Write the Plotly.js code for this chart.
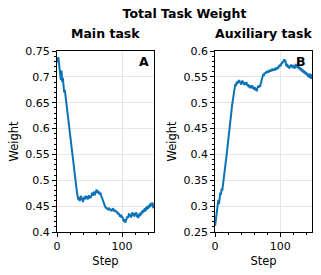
<!DOCTYPE html>
<html><head><meta charset="utf-8">
<script src="https://cdn.plot.ly/plotly-3.0.1.min.js"></script>
<style>html,body{margin:0;padding:0;background:#fff}#c{width:321px;height:275px}</style>
</head><body><div id="c"></div>
<script>
var mainWeight = [
0.736,0.728,0.738,0.722,0.715,0.705,0.694,0.712,0.690,0.698,0.684,
0.670,0.675,0.664,0.660,0.648,0.636,0.622,0.608,0.598,0.585,
0.574,0.560,0.552,0.540,0.528,0.518,0.506,0.496,0.490,0.484,
0.474,0.466,0.462,0.468,0.460,0.464,0.470,0.462,0.466,0.458,
0.465,0.468,0.463,0.470,0.466,0.469,0.463,0.467,0.471,0.465,
0.468,0.466,0.472,0.476,0.470,0.474,0.478,0.471,0.475,0.479,
0.482,0.476,0.480,0.474,0.478,0.472,0.476,0.470,0.467,0.462,
0.458,0.455,0.452,0.449,0.446,0.448,0.444,0.446,0.442,0.447,
0.443,0.445,0.440,0.444,0.441,0.446,0.442,0.440,0.443,0.439,
0.441,0.437,0.439,0.434,0.436,0.432,0.430,0.434,0.428,0.431,
0.426,0.424,0.420,0.425,0.418,0.422,0.426,0.430,0.427,0.433,
0.436,0.430,0.434,0.428,0.435,0.438,0.432,0.436,0.430,0.437,
0.434,0.438,0.429,0.433,0.427,0.432,0.436,0.431,0.438,0.434,
0.441,0.437,0.443,0.439,0.446,0.440,0.448,0.443,0.450,0.445,
0.452,0.447,0.455,0.449,0.456,0.451,0.457,0.446,0.452
];
var auxWeight = [
0.262,0.272,0.280,0.292,0.300,0.312,0.304,0.318,0.326,0.322,
0.334,0.330,0.340,0.346,0.352,0.366,0.378,0.390,0.402,0.414,
0.428,0.440,0.446,0.458,0.470,0.482,0.494,0.504,0.516,0.522,
0.530,0.536,0.532,0.540,0.536,0.542,0.538,0.544,0.538,0.541,
0.535,0.539,0.543,0.537,0.540,0.534,0.538,0.535,0.540,0.536,
0.532,0.536,0.530,0.534,0.528,0.532,0.529,0.534,0.527,0.531,
0.525,0.530,0.524,0.528,0.522,0.528,0.532,0.529,0.534,0.531,
0.536,0.540,0.546,0.550,0.555,0.552,0.558,0.556,0.560,0.557,
0.561,0.558,0.562,0.559,0.564,0.560,0.563,0.561,0.566,0.562,
0.565,0.562,0.567,0.563,0.568,0.564,0.569,0.566,0.572,0.569,
0.574,0.571,0.577,0.575,0.580,0.578,0.584,0.579,0.583,0.574,
0.570,0.575,0.568,0.572,0.566,0.571,0.568,0.574,0.569,0.573,
0.567,0.572,0.566,0.570,0.575,0.568,0.573,0.567,0.571,0.565,
0.569,0.563,0.567,0.561,0.565,0.559,0.563,0.557,0.561,0.555,
0.559,0.553,0.557,0.550,0.554,0.548,0.556,0.551,0.546,0.555
];
var steps = mainWeight.map(function(_, i){ return i; });
var stepsAux = auxWeight.map(function(_, i){ return i; });
var panelTitles = ['Main task', 'Auxiliary task'];
var panelLabels = ['A', 'B'];

var lineColor = '#0b72b6';
var font = 'DejaVu Sans, sans-serif';

function xax(domain, anchor){
  return {domain: domain, anchor: anchor, range: [0, 149], dtick: 100, tick0: 0,
    ticks: 'outside', ticklen: 4, tickwidth: 1, tickcolor: '#000',
    showline: true, linecolor: '#000', linewidth: 1, mirror: true,
    showgrid: true, gridcolor: '#e6e6e6', gridwidth: 1, zeroline: false,
    minor: {dtick: 20, ticklen: 2, tickcolor: '#000', ticks: 'outside', showgrid: false},
    tickfont: {family: font, size: 11, color: '#000'},
    title: {text: 'Step', font: {family: font, size: 11.5, color: '#000'}, standoff: 4}};
}
function yax(range, anchor){
  return {domain: [0, 1], anchor: anchor, range: range, dtick: 0.05, tick0: 0,
    ticks: 'outside', ticklen: 4, tickwidth: 1, tickcolor: '#000',
    showline: true, linecolor: '#000', linewidth: 1, mirror: true,
    showgrid: true, gridcolor: '#e6e6e6', gridwidth: 1, zeroline: false,
    minor: {dtick: 0.01, ticklen: 2, tickcolor: '#000', ticks: 'outside', showgrid: false},
    tickfont: {family: font, size: 11, color: '#000'},
    title: {text: 'Weight', font: {family: font, size: 11.5, color: '#000'}, standoff: 4}};
}

var data = [
  {x: steps, y: mainWeight, type: 'scatter', mode: 'lines', xaxis: 'x', yaxis: 'y',
   line: {color: lineColor, width: 2}, hoverinfo: 'skip'},
  {x: stepsAux, y: auxWeight, type: 'scatter', mode: 'lines', xaxis: 'x2', yaxis: 'y2',
   line: {color: lineColor, width: 2}, hoverinfo: 'skip'}
];

var layout = {
  width: 321, height: 275,
  margin: {l: 57, r: 9, t: 51, b: 43},
  paper_bgcolor: '#fff', plot_bgcolor: '#fff',
  showlegend: false,
  font: {family: font, color: '#000'},
  title: {text: '<b>Total Task Weight</b>', x: 0.5, xref: 'paper', xanchor: 'center',
          y: 1 - 14/275, yref: 'container', yanchor: 'middle',
          font: {family: font, size: 12.5, color: '#000'}},
  xaxis: xax([0, 0.38], 'y'),
  yaxis: yax([0.4, 0.75], 'x'),
  xaxis2: xax([0.62, 1], 'y2'),
  yaxis2: yax([0.25, 0.6], 'x2'),
  annotations: [
    {text: '<b>' + panelTitles[0] + '</b>', xref: 'x domain', yref: 'paper', x: 0.5, y: 1, yshift: 18,
     xanchor: 'center', yanchor: 'middle', showarrow: false, font: {family: font, size: 12.5, color: '#000'}},
    {text: '<b>' + panelTitles[1] + '</b>', xref: 'x2 domain', yref: 'paper', x: 0.5, y: 1, yshift: 18,
     xanchor: 'center', yanchor: 'middle', showarrow: false, font: {family: font, size: 12.5, color: '#000'}},
    {text: '<b>' + panelLabels[0] + '</b>', xref: 'x domain', yref: 'y domain', x: 0.9, y: 0.94,
     xanchor: 'center', yanchor: 'middle', showarrow: false, font: {family: font, size: 12.5, color: '#000'}},
    {text: '<b>' + panelLabels[1] + '</b>', xref: 'x2 domain', yref: 'y2 domain', x: 0.89, y: 0.94,
     xanchor: 'center', yanchor: 'middle', showarrow: false, font: {family: font, size: 12.5, color: '#000'}}
  ]
};

Plotly.newPlot('c', data, layout, {displayModeBar: false, staticPlot: true});
</script>
</body></html>
